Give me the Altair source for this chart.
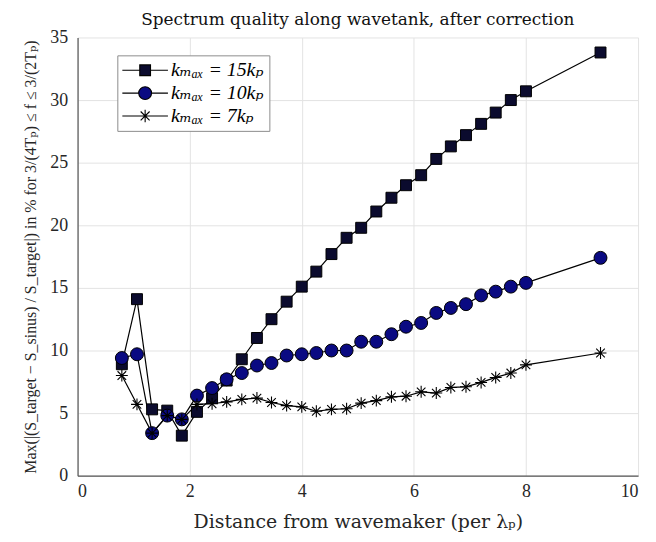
import altair as alt
import pandas as pd

# Distance from wavemaker (per lambda_p)
distance = [0.79, 1.06, 1.33, 1.60, 1.86, 2.13, 2.40, 2.66, 2.93, 3.20, 3.46, 3.73,
            4.00, 4.26, 4.53, 4.80, 5.06, 5.33, 5.60, 5.86, 6.13, 6.40, 6.66, 6.93,
            7.20, 7.46, 7.73, 8.00, 9.33]

k15 = [8.9, 14.1, 5.3, 5.2, 3.2, 5.1, 6.2, 7.6, 9.3, 11.0, 12.5, 13.9,
       15.1, 16.3, 17.7, 19.0, 19.8, 21.1, 22.2, 23.2, 24.0, 25.3, 26.3, 27.2,
       28.1, 29.0, 30.0, 30.7, 33.8]

k10 = [9.4, 9.7, 3.4, 4.8, 4.5, 6.4, 7.0, 7.7, 8.2, 8.8, 9.0, 9.6,
       9.7, 9.8, 10.0, 10.0, 10.7, 10.7, 11.3, 11.9, 12.2, 13.0, 13.4, 13.7,
       14.4, 14.7, 15.1, 15.4, 17.4]

k7 = [8.0, 5.7, 3.4, 4.8, 4.5, 5.7, 5.75, 5.9, 6.1, 6.2, 5.85, 5.6,
      5.5, 5.15, 5.3, 5.35, 5.8, 6.0, 6.3, 6.35, 6.7, 6.6, 7.05, 7.1,
      7.45, 7.85, 8.2, 8.85, 9.8]

series_names = ["kₘₐₓ = 15kₚ", "kₘₐₓ = 10kₚ", "kₘₐₓ = 7kₚ"]

rows = []
for name, vals in zip(series_names, [k15, k10, k7]):
    for d, v in zip(distance, vals):
        rows.append({"series": name, "distance": d, "value": v})
df = pd.DataFrame(rows)

FONT = "Liberation Serif, DejaVu Serif, serif"
WIDE = "DejaVu Serif, Liberation Serif, serif"
SQUARE_FILL = "#0b0b2e"
CIRCLE_FILL = "#0a0a82"
STAR_PATH = "M-1,0L1,0M0,-1L0,1M-0.72,-0.72L0.72,0.72M-0.72,0.72L0.72,-0.72"

# legend symbols: line through marker (unit = 9 px)
LEG_SQ = "M-2.55,0L-0.6,0M0.6,0L2.55,0M-0.6,-0.6L0.6,-0.6L0.6,0.6L-0.6,0.6Z"
LEG_CI = "M-2.55,0L-0.72,0M0.72,0L2.55,0M0.72,0A0.72,0.72 0 1,1 -0.72,0A0.72,0.72 0 1,1 0.72,0Z"
LEG_ST = "M-2.55,0L2.55,0M0,-0.7L0,0.7M-0.5,-0.5L0.5,0.5M-0.5,0.5L0.5,-0.5"

xs = alt.Scale(domain=[0, 10], nice=False)
ys = alt.Scale(domain=[0, 35], nice=False)

base = alt.Chart(df)

X = alt.X("distance:Q", scale=xs,
          axis=alt.Axis(values=[0, 2, 4, 6, 8, 10], title="Distance from wavemaker (per λₚ)"))
Y = alt.Y("value:Q", scale=ys,
          axis=alt.Axis(values=[0, 5, 10, 15, 20, 25, 30, 35],
                        title="Max(|(S_target − S_sinus) / S_target|) in % for 3/(4Tₚ) ≤ f ≤ 3/(2Tₚ)"))

lines = base.mark_line(color="black", strokeWidth=1.2).encode(
    x=X, y=Y, detail="series:N")

sq = base.transform_filter(alt.datum.series == series_names[0]).mark_point(
    shape="square", size=121, filled=True, fill=SQUARE_FILL, stroke="black",
    strokeWidth=1, opacity=1).encode(x=X, y=Y)

ci = base.transform_filter(alt.datum.series == series_names[1]).mark_point(
    shape="circle", size=169, filled=True, fill=CIRCLE_FILL, stroke="black",
    strokeWidth=1, opacity=1).encode(x=X, y=Y)

st = base.transform_filter(alt.datum.series == series_names[2]).mark_point(
    shape=STAR_PATH, size=144, filled=False, stroke="black",
    strokeWidth=1.1, opacity=1).encode(x=X, y=Y)

leg = alt.Legend(title=None, orient="none", legendX=40, legendY=18,
                 symbolSize=324, symbolOffset=13, labelOffset=16,
                 rowPadding=3, padding=5,
                 strokeColor="#8c8c8c", fillColor="white",
                 labelFont=FONT, labelFontSize=20,
                 labelFontStyle="italic", labelColor="black",
                 symbolStrokeColor="black", symbolStrokeWidth=1.1,
                 symbolOpacity=1)

legend_layer = base.transform_filter(alt.datum.value < 0).mark_point(
    filled=True, strokeWidth=1.1, opacity=1).encode(
    x=X, y=Y,
    fill=alt.Fill("series:N",
                  scale=alt.Scale(domain=series_names,
                                  range=[SQUARE_FILL, CIRCLE_FILL, "black"]),
                  legend=leg),
    shape=alt.Shape("series:N",
                    scale=alt.Scale(domain=series_names, range=[LEG_SQ, LEG_CI, LEG_ST]),
                    legend=leg),
    stroke=alt.Stroke("series:N",
                      scale=alt.Scale(domain=series_names,
                                      range=["black", "black", "black"]),
                      legend=leg),
)

chart = alt.layer(lines, sq, ci, st, legend_layer).properties(
    width=564, height=441,
    title=alt.TitleParams("Spectrum quality along wavetank, after correction",
                          font=WIDE, fontSize=17, fontWeight="normal", color="#111",
                          anchor="middle", offset=0),
    autosize=alt.AutoSizeParams(type="none"),
    padding={"left": 70, "top": 28, "right": 10, "bottom": 57},
).configure_view(stroke=None).configure_axis(
    labelFont=FONT, titleFont=WIDE, labelFontSize=18, titleFontSize=19,
    titleFontWeight="normal", labelColor="#262626", titleColor="#262626",
    domainColor="#555555", domainWidth=1.2, gridColor="#e3e3e3", gridWidth=1,
    ticks=False,
).configure_axisX(labelPadding=7, titlePadding=12).configure_axisY(
    labelPadding=10, titlePadding=11, titleFont=FONT, titleFontSize=16)

chart.save("out.html", embed_options={"renderer": "svg", "actions": False})
